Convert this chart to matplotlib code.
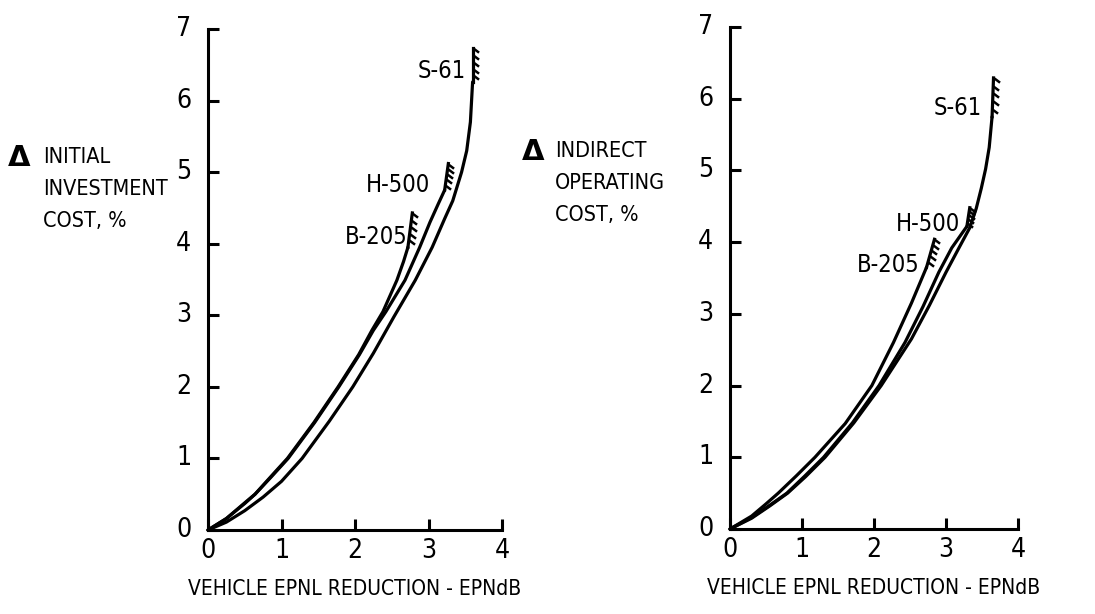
import matplotlib
matplotlib.use("Agg")
import matplotlib.pyplot as plt
import matplotlib.font_manager as fm
import numpy as np
from matplotlib.path import Path

# ---- data ----
# Left panel: initial investment cost
l_s61_x = [0, 0.25, 0.5, 0.75, 1.0, 1.28, 1.65, 1.97, 2.25, 2.53, 2.82, 3.05, 3.22, 3.33, 3.45, 3.52, 3.57, 3.6]
l_s61_y = [0, 0.11, 0.27, 0.46, 0.68, 1.0, 1.52, 2.0, 2.47, 2.98, 3.49, 3.95, 4.35, 4.6, 5.0, 5.3, 5.7, 6.26]
l_h500_x = [0, 0.25, 0.5, 0.64, 0.85, 1.09, 1.45, 1.78, 2.06, 2.25, 2.42, 2.68, 2.88, 3.02, 3.13, 3.22]
l_h500_y = [0, 0.16, 0.37, 0.5, 0.73, 1.0, 1.5, 2.0, 2.45, 2.79, 3.05, 3.49, 3.95, 4.3, 4.55, 4.75]
l_b205_x = [0, 0.25, 0.5, 0.64, 0.85, 1.08, 1.44, 1.77, 2.05, 2.23, 2.38, 2.57, 2.66, 2.72]
l_b205_y = [0, 0.16, 0.38, 0.5, 0.74, 1.0, 1.5, 2.0, 2.45, 2.79, 3.05, 3.49, 3.75, 3.95]
l_hatch_top_x = [3.6, 3.27, 2.78]
l_hatch_top_y = [6.73, 5.12, 4.43]

# Right panel: indirect operating cost
r_s61_x = [0, 0.3, 0.55, 0.8, 1.05, 1.32, 1.72, 2.1, 2.52, 2.77, 3.0, 3.18, 3.33, 3.42, 3.49, 3.55, 3.6, 3.64]
r_s61_y = [0, 0.15, 0.32, 0.5, 0.73, 1.0, 1.48, 2.0, 2.65, 3.12, 3.58, 3.92, 4.2, 4.47, 4.75, 5.02, 5.32, 5.75]
r_h500_x = [0, 0.3, 0.55, 0.79, 1.03, 1.3, 1.7, 2.07, 2.43, 2.68, 2.9, 3.08, 3.29]
r_h500_y = [0, 0.16, 0.33, 0.5, 0.73, 1.0, 1.48, 2.0, 2.6, 3.1, 3.58, 3.92, 4.22]
r_b205_x = [0, 0.3, 0.5, 0.67, 0.92, 1.18, 1.6, 1.97, 2.27, 2.52, 2.73]
r_b205_y = [0, 0.18, 0.35, 0.5, 0.74, 1.0, 1.47, 2.0, 2.6, 3.15, 3.65]
r_hatch_top_x = [3.66, 3.33, 2.84]
r_hatch_top_y = [6.29, 4.48, 4.04]

vehicles = ["S-61", "H-500", "B-205"]
l_label_pos = [(3.51, 6.42), (3.02, 4.82), (2.71, 4.09)]
r_label_pos = [(3.5, 5.87), (3.19, 4.25), (2.64, 3.68)]

x_ticks = [0, 1, 2, 3, 4]
y_ticks = [0, 1, 2, 3, 4, 5, 6, 7]
xlabel = "VEHICLE EPNL REDUCTION - EPNdB"
l_ylabel = ["INITIAL", "INVESTMENT", "COST, %"]
r_ylabel = ["INDIRECT", "OPERATING", "COST, %"]

# ---- pick a condensed font if one is installed ----
cond_file = None
cands = []
for f in fm.fontManager.ttflist:
    nm = f.name
    fn = f.fname.lower()
    if f.style != "normal" or f.weight not in (400, "normal", "regular"):
        continue
    if "narrow" in nm.lower() or "condensed" in nm.lower() or "condensed" in fn or "narrow" in fn \
            or f.stretch in ("condensed", "semi-condensed"):
        if "bold" in fn or "italic" in fn or "oblique" in fn:
            continue
        score = 0 if "liberationsansnarrow" in fn.replace("-", "") else (1 if "dejavusanscondensed" in fn.replace("-", "") else 2)
        cands.append((score, f.fname))
if cands:
    cands.sort()
    cond_file = cands[0][1]

if cond_file:
    FP = dict(fontproperties=fm.FontProperties(fname=cond_file))
    FS_TICK, FS_LAB, FS_X, FS_CAP = 19, 17, 15, 15.5
else:
    FP = dict(family=["DejaVu Sans"])
    FS_TICK, FS_LAB, FS_X, FS_CAP = 17, 15, 13, 13.5


def txt(obj_fn, *a, size=12, **k):
    kw = dict(k)
    if "fontproperties" in FP:
        p = FP["fontproperties"].copy()
        p.set_size(size)
        kw["fontproperties"] = p
    else:
        kw["family"] = FP["family"]
        kw["fontsize"] = size
    return obj_fn(*a, **kw)


W, H = 1095, 614
fig = plt.figure(figsize=(W / 100, H / 100), dpi=100)
fig.patch.set_facecolor("white")

ax_l = fig.add_axes([208 / W, 1 - 530 / H, (502 - 208) / W, (530 - 29) / H])
ax_r = fig.add_axes([730 / W, 1 - 529 / H, (1018 - 730) / W, (529 - 27) / H])

tick_marker = Path([(0, 0), (1.0, -0.75)], [Path.MOVETO, Path.LINETO])
LW = 2.3


def draw_panel(ax, curves, tops, label_pos):
    for (xs, ys), tx, ty, name, (lx, ly) in zip(curves, tops[0], tops[1], vehicles, label_pos):
        ax.plot(xs, ys, color="black", lw=LW, solid_capstyle="round",
                solid_joinstyle="round", clip_on=False)
        hx = [xs[-1], tx]
        hy = [ys[-1], ty]
        ax.plot(hx, hy, color="black", lw=LW, clip_on=False)
        n = 5
        px = np.linspace(xs[-1], tx, n + 1)[1:]
        py = np.linspace(ys[-1], ty, n + 1)[1:]
        ax.plot(px, py, ls="none", marker=tick_marker, ms=8, mew=1.8,
                mec="black", clip_on=False)
        txt(ax.text, lx, ly, name, size=FS_LAB, ha="right", va="center")
    ax.set_xlim(0, 4)
    ax.set_ylim(0, 7)
    for s in ["top", "right"]:
        ax.spines[s].set_visible(False)
    for s in ["left", "bottom"]:
        ax.spines[s].set_linewidth(2.2)
    ax.set_xticks(x_ticks)
    ax.set_yticks(y_ticks)
    ax.set_xticklabels([])
    ax.set_yticklabels([])
    ax.tick_params(direction="in", length=8, width=2.2)
    for v in x_ticks:
        txt(ax.annotate, str(v), (v, 0), xytext=(0, -15), textcoords="offset points",
            size=FS_TICK, ha="center", va="center", annotation_clip=False)
    for v in y_ticks:
        txt(ax.annotate, str(v), (0, v), xytext=(-12, 0), textcoords="offset points",
            size=FS_TICK, ha="right", va="center", annotation_clip=False)
    ax.set_facecolor("none")
    txt(ax.text, 0.5, -0.118, xlabel, size=FS_X, transform=ax.transAxes,
        ha="center", va="center")


draw_panel(ax_l, [(l_s61_x, l_s61_y), (l_h500_x, l_h500_y), (l_b205_x, l_b205_y)],
           (l_hatch_top_x, l_hatch_top_y), l_label_pos)
draw_panel(ax_r, [(r_s61_x, r_s61_y), (r_h500_x, r_h500_y), (r_b205_x, r_b205_y)],
           (r_hatch_top_x, r_hatch_top_y), r_label_pos)


def caption(x_tri, x_txt, y_top, lines):
    fig.text(x_tri / W, 1 - (y_top + 1) / H, "Δ", family=["DejaVu Sans"], fontsize=21,
             fontweight="bold", ha="left", va="center")
    for i, t in enumerate(lines):
        txt(fig.text, x_txt / W, 1 - (y_top + 32 * i) / H, t, size=FS_CAP,
            ha="left", va="center")


caption(8, 43, 157, l_ylabel)
caption(522, 555, 151, r_ylabel)

fig.savefig("out.png", dpi=100, facecolor="white")
